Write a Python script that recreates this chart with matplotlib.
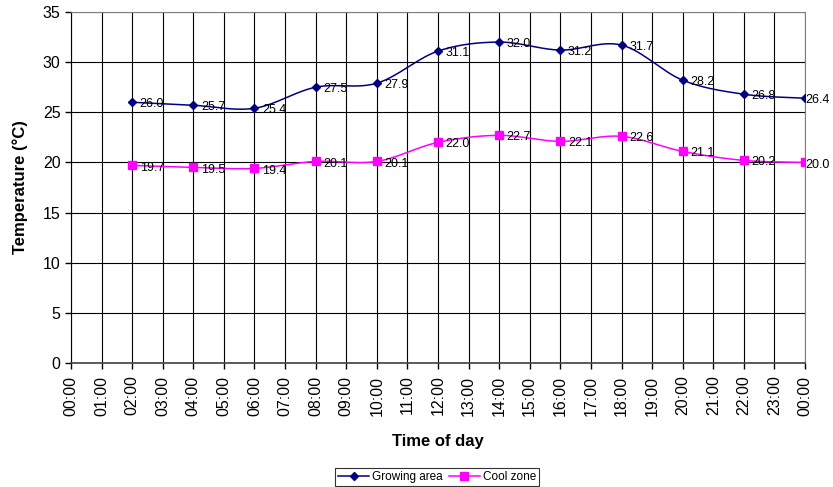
import numpy as np
import matplotlib as mpl
import matplotlib.pyplot as plt

mpl.rcParams['font.family'] = ['Liberation Sans', 'DejaVu Sans']

# category axis: 00:00 ... 23:00, 00:00
hour_labels = ['%02d:00' % h for h in range(24)] + ['00:00']
sample_pos = [2, 4, 6, 8, 10, 12, 14, 16, 18, 20, 22, 24]
growing = [26.0, 25.7, 25.4, 27.5, 27.9, 31.1, 32.0, 31.2, 31.7, 28.2, 26.8, 26.4]
cool = [19.7, 19.5, 19.4, 20.1, 20.1, 22.0, 22.7, 22.1, 22.6, 21.1, 20.2, 20.0]


def smooth(x, y, n=30):
    # Excel-like smoothed line (Catmull-Rom segments between the points)
    x = np.asarray(x, float)
    y = np.asarray(y, float)
    px = np.concatenate([[x[0]], x, [x[-1]]])
    py = np.concatenate([[y[0]], y, [y[-1]]])
    xs, ys = [], []
    t = np.linspace(0, 1, n)
    for i in range(1, len(px) - 2):
        p0, p1, p2, p3 = [np.array([px[j], py[j]]) for j in range(i - 1, i + 3)]
        c1 = p1 + (p2 - p0) / 6.0
        c2 = p2 - (p3 - p1) / 6.0
        b = ((1 - t) ** 3)[:, None] * p1 + (3 * (1 - t) ** 2 * t)[:, None] * c1 \
            + (3 * (1 - t) * t ** 2)[:, None] * c2 + (t ** 3)[:, None] * p2
        xs.extend(b[:, 0])
        ys.extend(b[:, 1])
    return np.array(xs), np.array(ys)


fig = plt.figure(figsize=(8.33, 4.87), dpi=100)
ax = fig.add_axes([0.0852, 0.2546, 0.8812, 0.7208])

series = [
    ('Growing area', growing, '#000080', 'D', 4.5),
    ('Cool zone', cool, '#FF00FF', 's', 6),
]
for name, vals, col, mk, ms in series:
    sx, sy = smooth(sample_pos, vals)
    ax.plot(sx, sy, color=col, lw=1.1, zorder=3)
    ax.plot(sample_pos, vals, ls='none', marker=mk, ms=ms, color=col, zorder=4)
    ax.plot([], [], color=col, lw=1.1, marker=mk, ms=ms, label=name)
    for i, (xv, yv) in enumerate(zip(sample_pos, vals)):
        dx = 5.5 if i < len(vals) - 1 else 0.5
        ax.annotate('%.1f' % yv, (xv, yv), xytext=(dx, -1.5), textcoords='offset points',
                    ha='left', va='center', fontsize=9, zorder=5, annotation_clip=False)

ax.set_xlim(0, 24)
ax.set_ylim(0, 35)
ax.set_xticks(range(25))
ax.set_xticklabels(hour_labels, rotation=90, fontsize=11.5)
ax.set_yticks(range(0, 36, 5))
ax.tick_params(axis='y', labelsize=11.5, length=4, width=1, direction='out')
ax.tick_params(axis='x', length=4, width=1, direction='out', pad=5)
ax.grid(True, color='black', lw=0.8)
ax.set_axisbelow(True)
for s in ['top', 'right']:
    ax.spines[s].set_color('#808080')
ax.spines['left'].set_color('black')
ax.spines['bottom'].set_color('#404040')
ax.spines['bottom'].set_linewidth(1.2)

ax.set_ylabel('Temperature (°C)', fontsize=12, fontweight='bold', labelpad=11)
ax.set_xlabel('Time of day', fontsize=12, fontweight='bold', labelpad=13)

leg = fig.legend(loc='center', bbox_to_anchor=(0.525, 0.0205), ncol=2, fontsize=8.5,
                 frameon=True, fancybox=False, edgecolor='black', handlelength=2.6,
                 columnspacing=0.5, handletextpad=0.3, borderpad=0.25)
leg.get_frame().set_linewidth(0.8)

fig.savefig('out.png', dpi=100)
